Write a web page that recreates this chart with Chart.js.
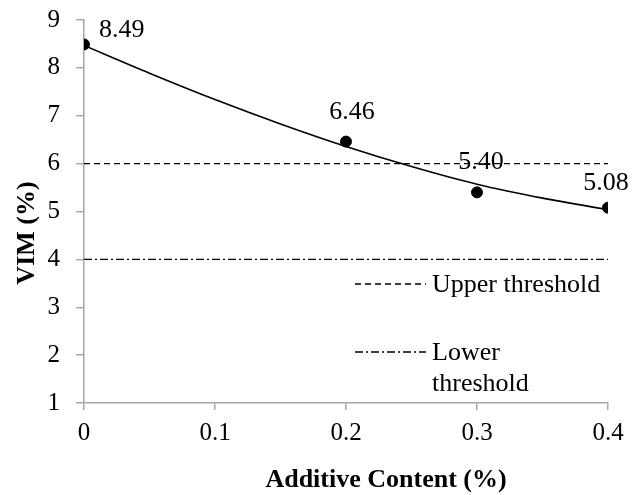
<!DOCTYPE html>
<html>
<head>
<meta charset="utf-8">
<script src="https://cdn.jsdelivr.net/npm/chart.js@4.4.1/dist/chart.umd.min.js"></script>
<style>
  html, body { margin: 0; padding: 0; background: #fff; }
  #wrap { width: 638px; height: 495px; }
</style>
</head>
<body>
<div id="wrap"><canvas id="myChart" width="638" height="495"></canvas></div>
<script>
// Datos medidos
const additive = [0, 0.2, 0.3, 0.4];
const vim = [8.49, 6.46, 5.40, 5.08];
const vimLabels = ['8.49', '6.46', '5.40', '5.08'];

// Línea de tendencia
const trendX = [0, 0.05, 0.1, 0.15, 0.2, 0.25, 0.3, 0.35, 0.4];
const trendY = [8.47, 7.89, 7.34, 6.83, 6.36, 5.94, 5.57, 5.28, 5.04];

// Umbrales
const upperThreshold = 6;
const lowerThreshold = 4;

const xTickLabels = ['0', '0.1', '0.2', '0.3', '0.4'];
const yTickLabels = ['1', '2', '3', '4', '5', '6', '7', '8', '9'];

const serif = "'Liberation Serif', 'Times New Roman', serif";

const toXY = (xs, ys) => xs.map((x, i) => ({ x: x, y: ys[i] }));

// Etiquetas de datos, leyenda y títulos de ejes
const extras = {
    id: 'extras',
    afterDatasetsDraw(chart) {
        const ctx = chart.ctx;
        const xs = chart.scales.x, ys = chart.scales.y;
        ctx.save();
        ctx.fillStyle = '#000';
        ctx.font = '26px ' + serif;
        ctx.textBaseline = 'middle';
        const offsets = [[15, -14, 'left'], [6, -29, 'center'], [4, -30, 'center'], [-2, -24, 'center']];
        additive.forEach((x, i) => {
            const px = xs.getPixelForValue(x), py = ys.getPixelForValue(vim[i]);
            ctx.textAlign = offsets[i][2];
            ctx.fillText(vimLabels[i], px + offsets[i][0], py + offsets[i][1]);
        });

        // leyenda
        ctx.strokeStyle = '#000';
        ctx.lineWidth = 1.3;
        ctx.setLineDash([6, 4]);
        ctx.beginPath(); ctx.moveTo(355, 284); ctx.lineTo(426, 284); ctx.stroke();
        ctx.setLineDash([8, 3, 2, 3]);
        ctx.beginPath(); ctx.moveTo(355, 352); ctx.lineTo(426, 352); ctx.stroke();
        ctx.setLineDash([]);
        ctx.textAlign = 'left';
        ctx.fillText('Upper threshold', 432, 285);
        ctx.fillText('Lower', 432, 353);
        ctx.fillText('threshold', 432, 384);

        // títulos de ejes
        ctx.font = 'bold 26px ' + serif;
        ctx.textAlign = 'center';
        ctx.fillText('Additive Content (%)', 386, 480);
        ctx.translate(27, 233);
        ctx.rotate(-Math.PI / 2);
        ctx.fillText('VIM (%)', 0, 0);
        ctx.restore();
    }
};

const ctx = document.getElementById('myChart').getContext('2d');
const myChart = new Chart(ctx, {
    type: 'scatter',
    data: {
        datasets: [{
            label: 'Upper threshold',
            data: toXY([0, 0.4], [upperThreshold, upperThreshold]),
            showLine: true,
            borderColor: '#000',
            borderWidth: 1.3,
            borderDash: [6, 4],
            pointRadius: 0
        }, {
            label: 'Lower threshold',
            data: toXY([0, 0.4], [lowerThreshold, lowerThreshold]),
            showLine: true,
            borderColor: '#000',
            borderWidth: 1.3,
            borderDash: [8, 3, 2, 3],
            pointRadius: 0
        }, {
            label: 'Trend',
            data: toXY(trendX, trendY),
            showLine: true,
            borderColor: '#000',
            borderWidth: 1.6,
            cubicInterpolationMode: 'monotone',
            pointRadius: 0
        }, {
            label: 'VIM',
            data: toXY(additive, vim),
            showLine: false,
            pointRadius: 5.5,
            pointBackgroundColor: '#000',
            pointBorderColor: '#000'
        }]
    },
    options: {
        responsive: false,
        animation: false,
        layout: { padding: { top: 20, right: 30, left: 0, bottom: 0 } },
        plugins: { legend: { display: false }, tooltip: { enabled: false } },
        scales: {
            x: {
                type: 'linear',
                min: 0,
                max: 0.4,
                afterFit: (s) => { s.height = 92; s.paddingLeft = 0; s.paddingRight = 0; },
                afterBuildTicks: (s) => { s.ticks = xTickLabels.map(v => ({ value: parseFloat(v) })); },
                ticks: {
                    callback: (v, i) => xTickLabels[i],
                    color: '#000',
                    font: { family: serif, size: 25 },
                    padding: 8,
                    maxRotation: 0
                },
                grid: { drawOnChartArea: false, drawTicks: true, tickLength: 7, color: '#a6a6a6', lineWidth: 1.5 },
                border: { color: '#a6a6a6', width: 1.5 }
            },
            y: {
                type: 'linear',
                min: 1,
                max: 9,
                afterFit: (s) => { s.width = 84; s.paddingTop = 0; s.paddingBottom = 0; },
                afterBuildTicks: (s) => { s.ticks = yTickLabels.map(v => ({ value: parseFloat(v) })); },
                ticks: {
                    callback: (v, i) => yTickLabels[i],
                    color: '#000',
                    font: { family: serif, size: 25 },
                    padding: 16
                },
                grid: { drawOnChartArea: false, drawTicks: true, tickLength: 8, color: '#a6a6a6', lineWidth: 1.5 },
                border: { color: '#a6a6a6', width: 1.5 }
            }
        }
    },
    plugins: [extras]
});
</script>
</body>
</html>
